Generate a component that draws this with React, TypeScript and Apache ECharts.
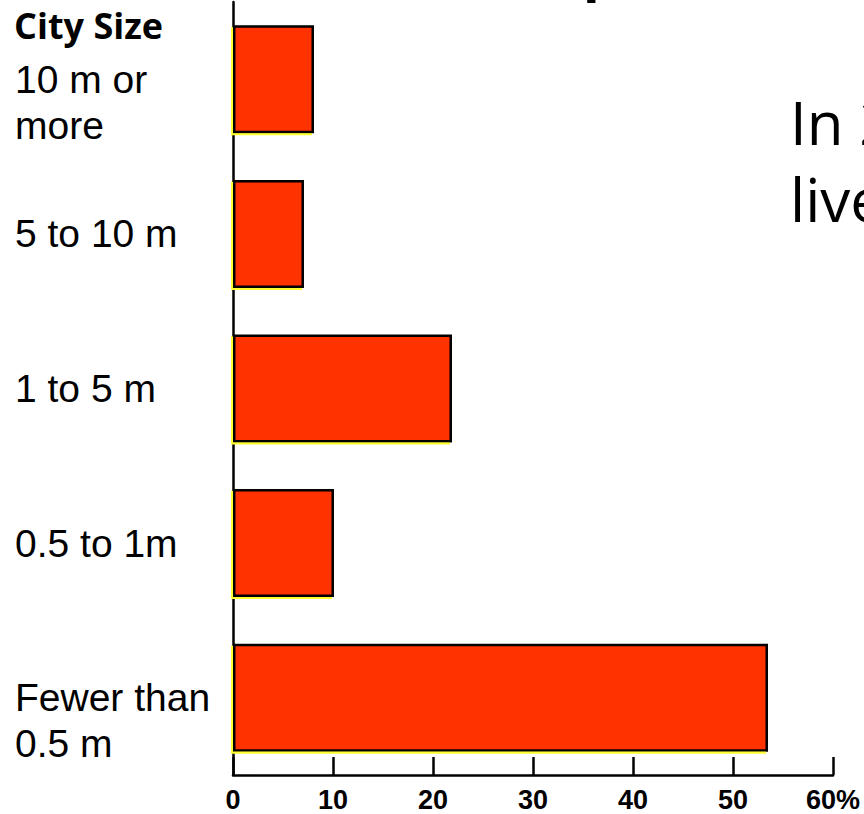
import React, { useEffect, useRef } from "react";
import * as echarts from "echarts";

const categories: string[] = ["Fewer than\n0.5 m", "0.5 to 1m", "1 to 5 m", "5 to 10 m", "10 m or\nmore"];
const shares: number[] = [53.5, 10.1, 21.9, 7.1, 8.1];
const axisMin = 0;
const axisMax = 60;
const axisStep = 10;
const headerText = "City Size";
const sideLines: string[] = ["In 2", "live"];
const titleFragment = "p";

export default function App() {
  const ref = useRef<HTMLDivElement>(null);
  useEffect(() => {
    if (!ref.current) return;
    const chart = echarts.init(ref.current, undefined, { renderer: "svg" });
    const labelFont = '"Liberation Sans", Arial, Helvetica, sans-serif';
    chart.setOption({
      animation: false,
      backgroundColor: "#ffffff",
      grid: { left: 233, right: 31, top: 2, bottom: 39, containLabel: false },
      xAxis: {
        type: "value",
        min: axisMin,
        max: axisMax,
        interval: axisStep,
        axisLine: { show: true, lineStyle: { color: "#000", width: 2.5 } },
        axisTick: { show: true, inside: true, length: 18, lineStyle: { color: "#000", width: 2.5 } },
        splitLine: { show: false },
        axisLabel: {
          margin: 11,
          color: "#000",
          fontFamily: labelFont,
          fontWeight: "bold",
          fontSize: 27,
          formatter: (v: number) => (v === axisMax ? `${v}%` : `${v}`),
        },
      },
      yAxis: {
        type: "category",
        data: categories,
        axisLine: { show: true, lineStyle: { color: "#000", width: 2.5 } },
        axisTick: { show: false },
        splitLine: { show: false },
        axisLabel: {
          align: "left",
          margin: 218,
          color: "#000",
          fontFamily: labelFont,
          fontSize: 39,
          lineHeight: 46,
          formatter: (v: string) => (v.includes("\n") ? "\n" + v : v),
        },
      },
      series: [
        {
          type: "bar",
          data: shares,
          barWidth: 108,
          itemStyle: {
            color: "#FF3300",
            borderColor: "#000",
            borderWidth: 2.5,
            shadowColor: "#FFFF33",
            shadowBlur: 0,
            shadowOffsetX: -2,
            shadowOffsetY: 2,
          },
        },
      ],
      graphic: [
        {
          type: "text",
          left: 14,
          top: 7,
          style: {
            text: headerText,
            fill: "#000",
            font: 'bold 36px "Open Sans", "Noto Sans", sans-serif',
          },
        },
        {
          type: "text",
          x: 583,
          y: -30,
          style: {
            text: titleFragment,
            fill: "#000",
            font: 'bold 60px "Liberation Sans", Arial, sans-serif',
            verticalAlign: "middle",
            align: "left",
          },
        },
        {
          type: "text",
          x: 790,
          y: 122,
          style: {
            text: sideLines[0],
            fill: "#000",
            font: '60px "Open Sans", "Noto Sans", sans-serif',
            verticalAlign: "middle",
            align: "left",
          },
        },
        {
          type: "text",
          x: 790,
          y: 199,
          style: {
            text: sideLines[1],
            fill: "#000",
            font: '60px "Open Sans", "Noto Sans", sans-serif',
            verticalAlign: "middle",
            align: "left",
          },
        },
      ],
    });
    return () => chart.dispose();
  }, []);
  return (
    <div
      ref={ref}
      style={{ position: "fixed", left: 0, top: 0, width: 864, height: 814, background: "#fff" }}
    />
  );
}
